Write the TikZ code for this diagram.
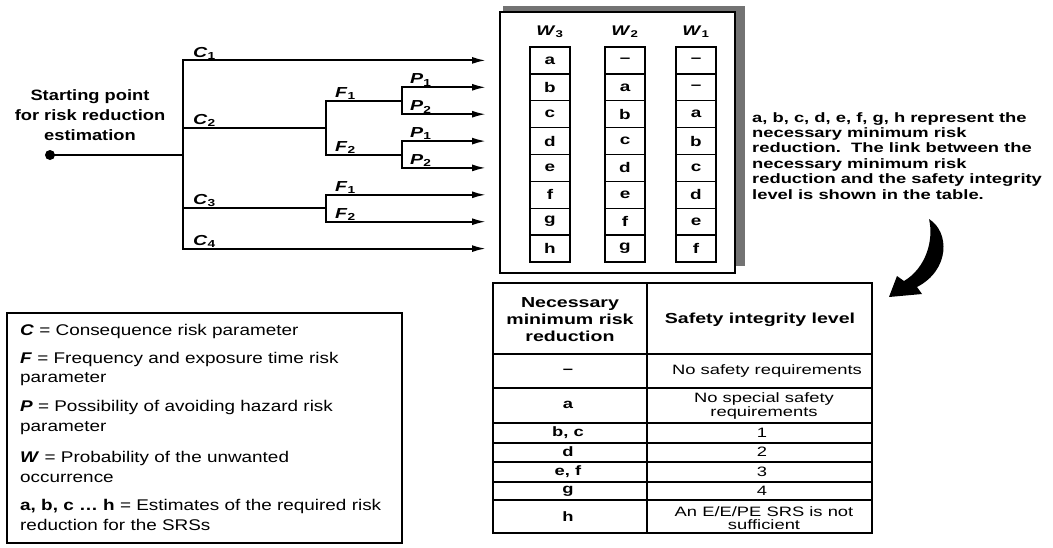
\documentclass[tikz,border=0pt]{standalone}
\usepackage{fontspec}
\setmainfont{Liberation Sans}
\newfontfamily\fA{Liberation Sans}[FakeStretch=1.22]
\newfontfamily\fB{Liberation Sans}[FakeStretch=1.35]
\usetikzlibrary{arrows.meta}
\newcommand\plab[2]{\textbf{\textit{#1}}\textsubscript{\textbf{#2}}}
\begin{document}
\begin{tikzpicture}[x=1pt,y=-1pt,
  tree/.style={line width=2pt,line cap=rect},
  trunk/.style={line width=2.6pt,line cap=rect},
  arr/.style={line width=2pt,-{Latex[length=14pt,width=7pt]}},
  lbl/.style={anchor=south west,inner sep=1pt,font=\fB\fontsize{14.5}{14.5}\selectfont},
  cell/.style={draw,line width=1.3pt,minimum width=40pt,minimum height=26.875pt,inner sep=0pt,font=\fB\bfseries\fontsize{14}{14}\selectfont},
  whead/.style={inner sep=0pt,font=\fB\fontsize{14}{14}\selectfont},
  legend/.style={anchor=west,align=left,inner sep=0pt,font=\fA\fontsize{15.5}{19.5}\selectfont},
  tcell/.style={align=center,inner sep=0pt,font=\fB\fontsize{13.6}{13.5}\selectfont},
  tcellb/.style={align=center,inner sep=0pt,font=\fB\bfseries\fontsize{13.6}{13.5}\selectfont},
  thead/.style={align=center,inner sep=0pt,font=\fB\bfseries\fontsize{14.5}{17}\selectfont},
  tline/.style={line width=1.3pt}]
\useasboundingbox (0,0) rectangle (1053,547);
\fill[white] (0,0) rectangle (1053,547);

% ---------- tree ----------
\def\ya{60.4}\def\yb{87.3}\def\yc{114.2}\def\yd{141.1}
\def\ye{167.9}\def\yf{194.8}\def\yg{221.7}\def\yh{248.6}
\node[circle,fill,inner sep=0pt,minimum size=10pt] (start) at (50,155) {};
\node[align=center,inner sep=0pt,font=\fA\bfseries\fontsize{15}{20}\selectfont] (startlbl) at (90,115)
  {Starting point\\for risk reduction\\estimation};
\coordinate (j0) at (183,155);
\coordinate (c1) at (183,\ya);
\coordinate (c2) at (183,127.5);
\coordinate (c3) at (183,208.25);
\coordinate (c4) at (183,\yh);
\coordinate (f2) at (326,127.5);
\coordinate (f3) at (326,208.25);
\coordinate (fa) at (326,100.75);
\coordinate (fb) at (326,154.5);
\coordinate (fc) at (326,\yf);
\coordinate (fd) at (326,\yg);
\coordinate (pa) at (402,100.75);
\coordinate (pb) at (402,154.5);
\coordinate (pa1) at (402,\yb);
\coordinate (pa2) at (402,\yc);
\coordinate (pb1) at (402,\yd);
\coordinate (pb2) at (402,\ye);
\foreach \n/\y in {1/\ya,2/\yb,3/\yc,4/\yd,5/\ye,6/\yf,7/\yg,8/\yh}
  \coordinate (e\n) at (486,\y);

\draw[tree] (start) -- (j0);
\draw[trunk] (c1) -- (c4);
\draw[tree] (c2) -- (f2);
\draw[tree] (c3) -- (f3);
\draw[tree] (fa) -- (fb);
\draw[tree] (fc) -- (fd);
\draw[tree] (fa) -- (pa);
\draw[tree] (fb) -- (pb);
\draw[tree] (pa1) -- (pa2);
\draw[tree] (pb1) -- (pb2);
\draw[arr] (c1) -- (e1);
\draw[arr] (pa1) -- (e2);
\draw[arr] (pa2) -- (e3);
\draw[arr] (pb1) -- (e4);
\draw[arr] (pb2) -- (e5);
\draw[arr] (fc) -- (e6);
\draw[arr] (fd) -- (e7);
\draw[arr] (c4) -- (e8);

\node[lbl] (lc1) at (192,\ya) {\plab{C}{1}};
\node[lbl] (lc2) at (192,127.5) {\plab{C}{2}};
\node[lbl] (lc3) at (192,208.25) {\plab{C}{3}};
\node[lbl] (lc4) at (192,\yh) {\plab{C}{4}};
\node[lbl] (lf1) at (334,100.75) {\plab{F}{1}};
\node[lbl] (lf2) at (334,154.5) {\plab{F}{2}};
\node[lbl] (lf3) at (334,\yf) {\plab{F}{1}};
\node[lbl] (lf4) at (334,\yg) {\plab{F}{2}};
\node[lbl] (lp1) at (409,\yb) {\plab{P}{1}};
\node[lbl] (lp2) at (409,\yc) {\plab{P}{2}};
\node[lbl] (lp3) at (409,\yd) {\plab{P}{1}};
\node[lbl] (lp4) at (409,\ye) {\plab{P}{2}};

% ---------- W box ----------
\fill[black!55] (503,6) rectangle (745,266);
\draw[line width=1.5pt,fill=white] (500,12) rectangle (735,273);
\node[whead] (w3) at (550,32) {\plab{W}{3}};
\node[whead] (w2) at (625,32) {\plab{W}{2}};
\node[whead] (w1) at (696,32) {\plab{W}{1}};
\foreach \t [count=\i] in {a,b,c,d,e,f,g,h}
  \node[cell] (a\i) at (550,{47+26.875*(\i-0.5)}) {\t};
\foreach \t [count=\i] in {–,a,b,c,d,e,f,g}
  \node[cell] (b\i) at (625,{47+26.875*(\i-0.5)}) {\t};
\foreach \t [count=\i] in {–,–,a,b,c,d,e,f}
  \node[cell] (c\i) at (696,{47+26.875*(\i-0.5)}) {\t};

% ---------- note ----------
\node[anchor=north west,align=left,inner sep=0pt,font=\fB\bfseries\fontsize{13.6}{15.4}\selectfont] (note) at (752,112)
  {a, b, c, d, e, f, g, h represent the\\necessary minimum risk\\reduction.\ \ The link between the\\necessary minimum risk\\reduction and the safety integrity\\level is shown in the table.};

% ---------- curved arrow ----------
\fill (929,219) .. controls (950,232) and (950,270) .. (917,287)
  -- (922,294) -- (889,297) -- (897,276) -- (904,281)
  .. controls (926,268) and (934,240) .. (929,219) -- cycle;

% ---------- legend ----------
\draw[line width=1.5pt] (7,313) rectangle (402,543);
\node[legend] (l1) at (20,331) {\textbf{\textit{C}} = Consequence risk parameter};
\node[legend] (l2) at (20,369) {\textbf{\textit{F}} = Frequency and exposure time risk\\parameter};
\node[legend] (l3) at (20,417.5) {\textbf{\textit{P}} = Possibility of avoiding hazard risk\\parameter};
\node[legend] (l4) at (20,467) {\textbf{\textit{W}} = Probability of the unwanted\\occurrence};
\node[legend] (l5) at (20,515) {\textbf{a, b, c \dots\ h} = Estimates of the required risk\\reduction for the SRSs};

% ---------- table ----------
\draw[line width=1.6pt] (493,283) rectangle (872,533);
\draw[tline] (647,283) -- (647,533);
\foreach \y in {354,388,423,443,462,482,500}
  \draw[tline] (493,\y) -- (872,\y);
\node[thead] (th1) at (570,320) {Necessary\\minimum risk\\reduction};
\node[thead] (th2) at (760,320) {Safety integrity level};
\node[tcellb] (r1a) at (568,371) {–};
\node[tcellb] (r2a) at (568,405) {a};
\node[tcellb] (r3a) at (568,433) {b, c};
\node[tcellb] (r4a) at (568,452) {d};
\node[tcellb] (r5a) at (568,472) {e, f};
\node[tcellb] (r6a) at (568,491) {g};
\node[tcellb] (r7a) at (568,517) {h};
\node[tcell] (r1b) at (767,371) {No safety requirements};
\node[tcell] (r2b) at (764,406) {No special safety\\requirements};
\node[tcell] (r3b) at (762,433) {1};
\node[tcell] (r4b) at (762,452) {2};
\node[tcell] (r5b) at (762,472) {3};
\node[tcell] (r6b) at (762,491) {4};
\node[tcell] (r7b) at (764,518) {An E/E/PE SRS is not\\sufficient};
\end{tikzpicture}
\end{document}
